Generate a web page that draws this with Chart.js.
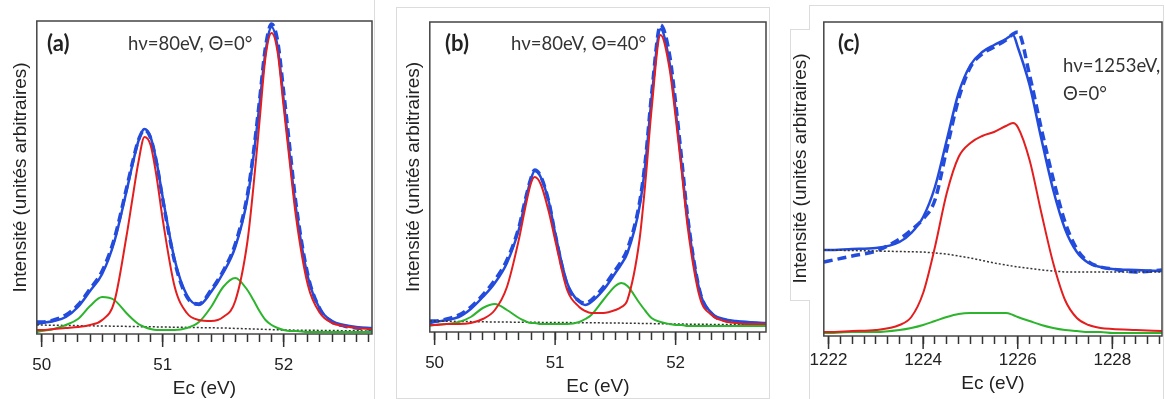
<!DOCTYPE html>
<html>
<head>
<meta charset="utf-8">
<script src="https://cdn.jsdelivr.net/npm/chart.js@4.4.1/dist/chart.umd.min.js"></script>
<style>
    body { margin: 0; background: #fff; width: 1165px; height: 399px; overflow: hidden; position: relative; }
    canvas { position: absolute; top: 0; }
    .frame { position: absolute; box-sizing: border-box; border: 1px solid #dcdcdc; }
    .note { position: absolute; font-family: Lato, "Open Sans", sans-serif; font-size: 18.5px; color: #333; white-space: nowrap; line-height: 1; }
    .tag { font-weight: bold; font-size: 22px; color: #222; }
</style>
</head>
<body>
<div class="frame" style="left:374px;top:0;width:1px;height:399px;border-width:0 0 0 1px"></div>
<div class="frame" style="left:396px;top:7px;width:374px;height:392px"></div>
<div class="frame" style="left:809px;top:5px;width:355px;height:400px"></div>
<div class="frame" style="left:790px;top:29px;width:20px;height:272px;border-right:none;background:#fff"></div>

<canvas id="panelA" width="374" height="399" style="left:0"></canvas>
<canvas id="panelB" width="372" height="399" style="left:397px"></canvas>
<canvas id="panelC" width="383" height="399" style="left:780px"></canvas>

<div class="note tag" style="left:47px;top:32px">(a)</div>
<div class="note" style="left:128px;top:34px">hν=80eV, Θ=0°</div>
<div class="note tag" style="left:445px;top:32px">(b)</div>
<div class="note" style="left:511px;top:34px">hν=80eV, Θ=40°</div>
<div class="note tag" style="left:838px;top:32px">(c)</div>
<div class="note" style="left:1063px;top:56px">hν=1253eV,</div>
<div class="note" style="left:1063px;top:84px">Θ=0°</div>

<script>
/* panel (a) : hv=80eV, theta=0 */
const aX = [49.96, 50.0, 50.1, 50.2, 50.3, 50.4, 50.5, 50.6, 50.7, 50.75, 50.8, 50.85, 50.9, 50.95, 51.0, 51.1, 51.2, 51.3, 51.4, 51.5, 51.6, 51.7, 51.75, 51.8, 51.85, 51.9, 51.95, 52.0, 52.05, 52.1, 52.2, 52.3, 52.4, 52.5, 52.6, 52.73];
const aFit = [13, 14, 16, 20, 30, 46, 63, 95, 145, 172, 196, 208, 200, 175, 140, 77, 42, 32, 45, 64, 90, 138, 180, 232, 285, 310, 290, 237, 182, 130, 60, 28, 16, 12, 10, 9];
const aData = [15, 15, 17, 22, 32, 48, 66, 98, 148, 174, 197, 207, 199, 174, 138, 75, 40, 33, 47, 66, 93, 142, 184, 236, 290, 313, 296, 245, 190, 135, 62, 28, 15, 11, 9, 8];
const aRed = [7, 7, 8, 9, 10, 12, 17, 35, 100, 138, 175, 200, 192, 160, 118, 50, 24, 17, 16, 20, 36, 95, 150, 215, 280, 304, 285, 230, 175, 122, 52, 24, 14, 11, 9, 8];
const aGreen = [5, 6, 8, 12, 18, 31, 40, 37, 24, 18, 13, 10, 8, 7, 7, 7, 9, 15, 30, 50, 59, 47, 37, 26, 17, 12, 9, 7, 6, 6, 5, 5, 5, 5, 5, 5];
const aBgX = [49.96, 50.5, 51.0, 51.5, 52.0, 52.73];
const aBg = [12, 11, 10, 9, 7, 6];
const aTicks = [50, 51, 52];

/* panel (b) : hv=80eV, theta=40 */
const bX = [49.96, 50.0, 50.1, 50.2, 50.3, 50.4, 50.5, 50.6, 50.7, 50.75, 50.8, 50.83, 50.88, 50.95, 51.0, 51.1, 51.2, 51.25, 51.3, 51.4, 51.5, 51.55, 51.6, 51.7, 51.75, 51.8, 51.875, 51.95, 52.0, 52.05, 52.1, 52.2, 52.3, 52.4, 52.5, 52.6, 52.75];
const bFit = [8, 9, 11, 14, 22, 34, 48, 68, 102, 128, 152, 160, 154, 128, 98, 48, 29, 26, 29, 41, 58, 67, 78, 124, 168, 232, 302, 268, 221, 165, 111, 40, 18, 12, 10, 9, 8];
const bData = [10, 10, 12, 16, 24, 36, 51, 71, 104, 130, 153, 161, 155, 128, 97, 46, 30, 28, 31, 44, 61, 70, 82, 128, 172, 236, 306, 276, 228, 172, 114, 40, 17, 11, 9, 8, 7];
const bRed = [6, 6, 7, 7, 8, 12, 21, 44, 92, 122, 148, 154, 147, 118, 91, 41, 24, 20, 18, 18, 21, 24, 31, 91, 150, 221, 296, 262, 214, 160, 104, 34, 16, 10, 8, 7, 7];
const bGreen = [5, 6, 7, 9, 14, 23, 27, 21, 13, 10, 8, 8, 7, 7, 7, 7, 9, 12, 16, 31, 45, 48, 45, 28, 20, 13, 9, 7, 6, 6, 5, 5, 5, 5, 5, 5, 5];
const bBgX = [49.96, 50.5, 51.0, 51.5, 52.0, 52.75];
const bBg = [10, 9, 8.5, 8, 7, 6];
const bTicks = [50, 51, 52];

/* panel (c) : hv=1253eV, theta=0 */
const cX = [1221.9, 1222, 1222.5, 1223, 1223.5, 1223.75, 1224, 1224.25, 1224.5, 1224.75, 1225, 1225.25, 1225.5, 1225.75, 1225.9, 1226, 1226.25, 1226.5, 1226.75, 1227, 1227.25, 1227.5, 1227.75, 1228, 1228.5, 1229.05];
const cFit = [87, 87, 88, 89, 95, 104, 120, 150, 197, 244, 272, 285, 292, 298, 302, 290, 252, 198, 147, 108, 85, 74, 70, 68, 67, 66];
const cData = [75, 76, 81, 86, 98, 107, 118, 137, 188, 238, 270, 283, 290, 297, 303, 305, 262, 208, 158, 115, 88, 75, 70, 68, 65, 67];
const cRed = [5, 5, 6, 7, 12, 20, 44, 90, 144, 180, 194, 201, 205, 211, 214, 210, 177, 124, 74, 37, 19, 12, 9, 8, 7, 6];
const cGreen = [4, 4, 5, 5, 7, 9, 12, 16, 20, 23, 24, 24, 24, 24, 22, 20, 16, 12, 9, 7, 6, 5, 5, 4, 4, 4];
const cBgX = [1221.9, 1223, 1224, 1224.5, 1225, 1225.5, 1226, 1226.5, 1227, 1228, 1229.05];
const cBg = [87, 86, 85, 83, 79, 74, 70, 67, 65, 65, 65];
const cTicks = [1222, 1224, 1226, 1228];

const BLUE = "rgb(35, 75, 220)";
const RED = "rgb(228, 30, 30)";
const GREEN = "rgb(45, 180, 45)";
const Y_TITLE = "Intensité (unités arbitraires)";
const FONT = "'Liberation Sans', Arial, sans-serif";

function pts(xs, ys) {
    return xs.map((x, i) => ({ x: x, y: ys[i] }));
}

function line(xs, ys, color, width) {
    return {
        data: pts(xs, ys),
        borderColor: color,
        borderWidth: width,
        pointRadius: 0,
        fill: false,
        cubicInterpolationMode: "monotone"
    };
}

/* box round the plot + longer marks under labelled ticks */
const frameBox = {
    id: "frameBox",
    afterDraw(chart) {
        const { ctx, chartArea: c } = chart;
        const x = chart.scales.x;
        ctx.save();
        ctx.strokeStyle = "#444";
        ctx.lineWidth = 1.5;
        ctx.strokeRect(c.left, c.top, c.right - c.left, c.bottom - c.top);
        ctx.strokeStyle = "#333";
        x.ticks.forEach(t => {
            if (!t.label) return;
            const px = x.getPixelForValue(t.value);
            ctx.beginPath();
            ctx.moveTo(px, c.bottom);
            ctx.lineTo(px, c.bottom + 13);
            ctx.stroke();
        });
        ctx.restore();
    }
};

function makePanel(id, p) {
    return new Chart(document.getElementById(id), {
        type: "line",
        data: {
            datasets: [
                line(p.x, p.red, RED, 2),
                line(p.x, p.green, GREEN, 2),
                Object.assign(line(p.bgX, p.bg, "#333", 1.5), { borderDash: [2, 2], cubicInterpolationMode: "default" }),
                Object.assign(line(p.x, p.data, BLUE, 3.5), { borderDash: [9, 5] }),
                line(p.x, p.fit, BLUE, 2.5)
            ]
        },
        options: {
            responsive: false,
            animation: false,
            layout: { padding: p.pad },
            plugins: { legend: { display: false }, tooltip: { enabled: false } },
            scales: {
                x: {
                    type: "linear",
                    min: p.xMin,
                    max: p.xMax,
                    afterBuildTicks: scale => {
                        const t = [];
                        for (let i = 0; ; i++) {
                            const v = +(p.tickStart + i * p.step).toFixed(3);
                            if (v > p.xMax) break;
                            t.push({ value: v });
                        }
                        scale.ticks = t;
                    },
                    // no extra room for labels at the ends, the box sets the width
                    afterFit: scale => {
                        scale.paddingLeft = 0;
                        scale.paddingRight = 0;
                    },
                    ticks: {
                        autoSkip: false,
                        maxRotation: 0,
                        padding: p.tickPad,
                        color: "#222",
                        font: { family: FONT, size: 17 },
                        callback: v => p.majors.includes(v) ? String(v) : ""
                    },
                    grid: { drawOnChartArea: false, drawTicks: true, tickLength: 8, tickColor: "#333", tickWidth: 1.5 },
                    border: { display: false },
                    title: { display: true, text: "Ec (eV)", color: "#222", font: { family: FONT, size: 19 }, padding: p.xTitlePad }
                },
                y: {
                    min: p.yMin,
                    max: p.yMax,
                    ticks: { display: false },
                    grid: { display: false, drawTicks: false },
                    border: { display: false },
                    title: { display: true, text: p.yTitle || Y_TITLE, color: "#222", font: { family: FONT, size: 19 }, padding: p.yTitlePad }
                }
            }
        },
        plugins: [frameBox]
    });
}

makePanel("panelA", {
    x: aX, fit: aFit, data: aData, red: aRed, green: aGreen, bgX: aBgX, bg: aBg, majors: aTicks,
    xMin: 49.96, xMax: 52.73, tickStart: 50, step: 0.1, yMin: 3, yMax: 316,
    pad: { left: 5, top: 21, right: 2, bottom: 0 },
    tickPad: 13, xTitlePad: { top: -10.8, bottom: -1.4 }, yTitlePad: { top: 4, bottom: 5 }
});

makePanel("panelB", {
    x: bX, fit: bFit, data: bData, red: bRed, green: bGreen, bgX: bBgX, bg: bBg, majors: bTicks,
    xMin: 49.96, xMax: 52.75, tickStart: 50, step: 0.1, yMin: -1, yMax: 309,
    pad: { left: 2, top: 22, right: 3, bottom: 0 },
    tickPad: 13, xTitlePad: { top: -10.8, bottom: 0.6 }, yTitlePad: { top: 3, bottom: 5 }
});

makePanel("panelC", {
    x: cX, fit: cFit, data: cData, red: cRed, green: cGreen, bgX: cBgX, bg: cBg, majors: cTicks,
    xMin: 1221.9, xMax: 1229.05, tickStart: 1222, step: 0.25, yMin: 1, yMax: 315,
    pad: { left: 4, top: 22, right: 1, bottom: 0 },
    tickPad: 6, xTitlePad: { top: -3.8, bottom: 3.6 }, yTitlePad: { top: 5, bottom: 12 },
    yTitle: "    " + Y_TITLE
});
</script>
</body>
</html>
